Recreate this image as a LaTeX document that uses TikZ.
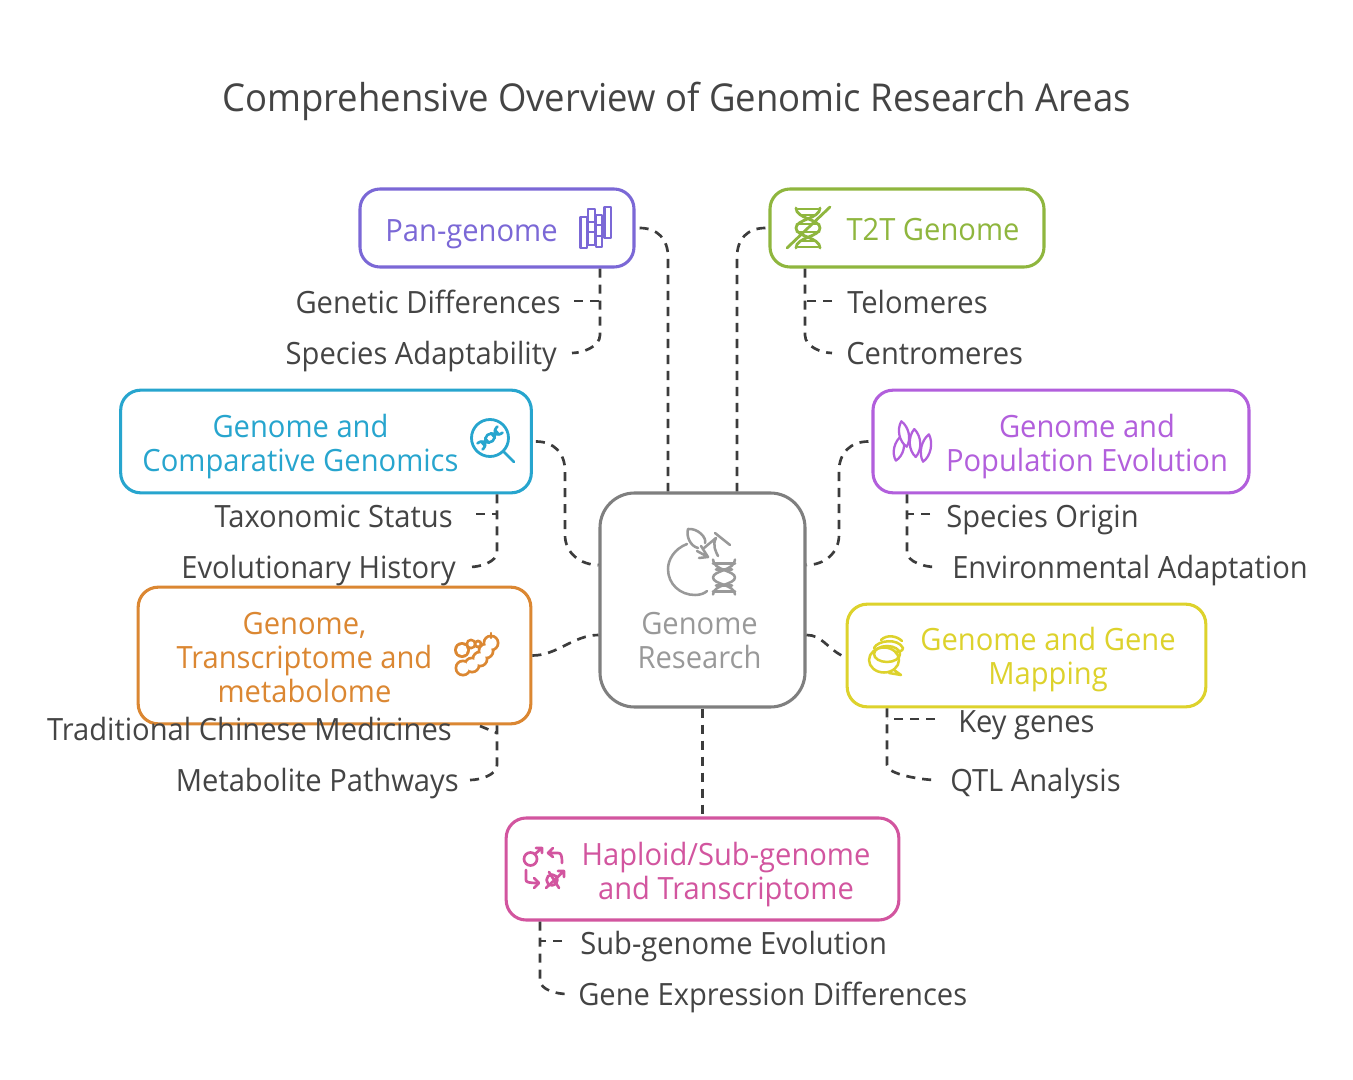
\documentclass[tikz,border=0pt]{standalone}
\usepackage{fontspec}
\setmainfont[FakeStretch=0.95]{Open Sans}
\usetikzlibrary{calc}
\definecolor{ink}{HTML}{444444}
\definecolor{dashc}{HTML}{3C3C3C}
\definecolor{cpan}{HTML}{7B68D6}
\definecolor{ct2t}{HTML}{8FB63E}
\definecolor{ccomp}{HTML}{27A5CE}
\definecolor{cpop}{HTML}{B25FDC}
\definecolor{ctrans}{HTML}{DB8732}
\definecolor{cmap}{HTML}{DDD22C}
\definecolor{chap}{HTML}{D2559F}
\definecolor{ccen}{HTML}{7F7F7F}
\definecolor{ccent}{HTML}{999999}
\newcommand{\myleaf}[5]{\draw[fill=white,shift={(#1,#2)},rotate=#3] (0,-#5) .. controls (1.4*#4,-0.45*#5) and (1.4*#4,0.5*#5) .. (0,#5) .. controls (-1.4*#4,0.5*#5) and (-1.4*#4,-0.45*#5) .. cycle;}
\tikzset{
 box/.style={draw=#1,text=#1,line width=2.3pt,rounded corners=15pt,fill=white,align=center,inner sep=0pt},
 lab/.style={text=ink,inner sep=0pt,text height=21pt,text depth=4pt,font=\fontsize{23}{25}\selectfont},
 boxtext/.style={text=#1,inner sep=0pt,align=center,font=\fontsize{23}{25.5}\selectfont},
 conn/.style={draw=dashc,line width=2pt,dash pattern=on 6.8pt off 5.2pt},
 icon/.style={draw=#1,line width=1.6pt,line cap=round,line join=round},
}
\begin{document}
\begin{tikzpicture}[x=0.75pt,y=-0.75pt]
\useasboundingbox[fill=white] (0,0) rectangle (1353,1080);
\node[text=ink,inner sep=0pt,font=\fontsize{28.8}{32}\selectfont] (title) at (676.5,101) {Comprehensive Overview of Genomic Research Areas};
% boxes
\node[box=ccen,rounded corners=26pt,minimum width=153.75pt,minimum height=160.5pt] (center) at (702.5,600) {};
\node[box=cpan,minimum width=205.5pt,minimum height=58.5pt] (pan) at (497,228) {};
\node[box=ct2t,minimum width=205.5pt,minimum height=58.5pt] (t2t) at (907,228) {};
\node[box=ccomp,minimum width=308pt,minimum height=77pt] (comp) at (326,441.5) {};
\node[box=cpop,minimum width=282pt,minimum height=77pt] (pop) at (1061,441.5) {};
\node[box=ctrans,minimum width=294.5pt,minimum height=102.5pt] (trans) at (334.5,655.5) {};
\node[box=cmap,minimum width=269pt,minimum height=77pt] (map) at (1026.5,655.5) {};
\node[box=chap,minimum width=294.5pt,minimum height=76.5pt] (hap) at (702.5,869) {};
% box texts
\node[boxtext=cpan] (tpan) at (471.5,234) {Pan-genome};
\node[boxtext=ct2t] (tt2t) at (933,230) {T2T Genome};
\node[boxtext=ccomp] (tcomp) at (300.5,446.5) {Genome and\\Comparative Genomics};
\node[boxtext=cpop] (tpop) at (1087,446.5) {Genome and\\Population Evolution};
\node[boxtext=ctrans] (ttrans) at (304.5,657.5) {Genome,\\Transcriptome and\\metabolome};
\node[boxtext=cmap] (tmap) at (1048,659.5) {Genome and Gene\\Mapping};
\node[boxtext=chap] (thap) at (726,874.5) {Haploid/Sub-genome\\and Transcriptome};
\node[boxtext=ccent] (tcen) at (699.5,640.5) {Genome\\Research};
% labels
\node[lab,anchor=east] (gd) at (561,302) {Genetic Differences};
\node[lab,anchor=east] (sa) at (557,353) {Species Adaptability};
\node[lab,anchor=west] (tel) at (847,302) {Telomeres};
\node[lab,anchor=west] (cen) at (846,353) {Centromeres};
\node[lab,anchor=east] (ts) at (453,516) {Taxonomic Status};
\node[lab,anchor=east] (eh) at (456,567) {Evolutionary History};
\node[lab,anchor=west] (so) at (946,516) {Species Origin};
\node[lab,anchor=west] (ea) at (952,567) {Environmental Adaptation};
\node[lab,anchor=east] (tcm) at (452,729) {Traditional Chinese Medicines};
\node[lab,anchor=east] (mp) at (459,780) {Metabolite Pathways};
\node[lab,anchor=west] (kg) at (958,721) {Key genes};
\node[lab,anchor=west] (qtl) at (950,780) {QTL Analysis};
\node[lab,anchor=west] (sge) at (580,943) {Sub-genome Evolution};
\node[lab,anchor=west] (ged) at (578,994) {Gene Expression Differences};
% connectors to the centre
\coordinate (c1) at ($(center.north)+(-34.5,0)$);
\coordinate (c2) at ($(center.north)+(34.5,0)$);
\coordinate (c3) at ($(center.west)+(0,-35)$);
\coordinate (c4) at ($(center.west)+(0,35)$);
\coordinate (c5) at ($(center.east)+(0,-35)$);
\coordinate (c6) at ($(center.east)+(0,35)$);
\draw[conn] ($(pan.east)+(4,0)$) .. controls +(18,0) and +(0,-18) .. (668,257) -- (c1);
\draw[conn] ($(t2t.west)+(-3,0)$) .. controls +(-18,0) and +(0,-18) .. (737,257) -- (c2);
\draw[conn] ($(comp.east)+(3,0)$) .. controls +(18,0) and +(0,-18) .. (565,471) -- (565,535) .. controls +(0,18) and +(-18,0) .. (c3);
\draw[conn] ($(pop.west)+(-3,0)$) .. controls +(-18,0) and +(0,-18) .. (839,471) -- (839,535) .. controls +(0,18) and +(18,0) .. (c5);
\draw[conn] (trans.east) .. controls +(25,0) and +(-25,0) .. (c4);
\draw[conn] (c6) .. controls +(15,0) and +(-15,-8) .. ($(map.west)+(-4,0)$);
\draw[conn] (center.south) -- (hap.north);
% branches
\coordinate (ptr) at ($(pan.south)+(103,0)$);
\coordinate (ttr) at ($(t2t.south)+(-102,0)$);
\coordinate (ctr) at ($(comp.south)+(171,0)$);
\coordinate (pptr) at ($(pop.south)+(-154,0)$);
\coordinate (mtr) at ($(map.south)+(-139.5,0)$);
\coordinate (trtr) at ($(trans.south)+(162.5,0)$);
\coordinate (htr) at ($(hap.south)+(-162.5,0)$);
\draw[conn] (ptr) -- (600,335) .. controls +(0,12) and +(10,0) .. ($(sa.east)+(15,0)$);
\draw[conn] ($(gd.east)+(13,-1)$) -- (600,301);
\draw[conn] (ttr) -- (805,335) .. controls +(0,12) and +(-10,0) .. ($(cen.west)+(-14,0)$);
\draw[conn] ($(tel.west)+(-15,-1)$) -- (805,301);
\draw[conn] (ctr) -- (497,552) .. controls +(0,10) and +(10,0) .. ($(eh.east)+(14,0)$);
\draw[conn] ($(ts.east)+(23,-2)$) -- (497,514);
\draw[conn] (pptr) -- (907,552) .. controls +(0,10) and +(-10,0) .. ($(ea.west)+(-17,0)$);
\draw[conn] ($(so.west)+(-16,-2)$) -- (907,514);
\draw[conn] (trtr) -- (497,765) .. controls +(0,10) and +(10,0) .. ($(mp.east)+(11,0)$);
\draw[conn] ($(tcm.east)+(28,-3)$) -- (497,733);
\draw[conn] (mtr) -- (887,765) .. controls +(0,10) and +(-10,0) .. ($(qtl.west)+(-15,0)$);
\draw[conn] ($(kg.west)+(-23,-2)$) -- (887,719);
\draw[conn] (htr) -- (540,980) .. controls +(0,10) and +(-10,0) .. ($(ged.west)+(-11,0)$);
\draw[conn] ($(sge.west)+(-18,-2)$) -- (540,941);
% --- icons
% pan
\begin{scope}[icon=cpan,line width=1.6pt]
\draw (580.5,217) rectangle (587,248);
\draw (588,209) rectangle (595,245);
\draw (596,215) rectangle (602,247);
\draw (604.5,207) rectangle (611,238);
\draw (588,222) -- (595,222) (588,232) -- (595,232) (596,225) -- (602,225) (596,236) -- (602,236) (602,219) -- (604.5,219) (602,229) -- (604.5,229) (587,238) -- (588,238);
\end{scope}
% t2t dna
\begin{scope}[shift={(808,228)},icon=ct2t,line width=2.1pt]
\draw (-12,-20) .. controls (-12,-9) and (12,-9) .. (12,0) .. controls (12,9) and (-12,9) .. (-12,20);
\draw (12,-20) .. controls (12,-9) and (-12,-9) .. (-12,0) .. controls (-12,9) and (12,9) .. (12,20);
\draw (-10,-19) -- (10,-19) (-7,-13) -- (7,-13) (-11,-4) -- (11,-4) (-11,4) -- (11,4) (-7,13) -- (7,13) (-10,19) -- (10,19);
\draw (-21,20) -- (22,-21);
\end{scope}
% magnifier
\begin{scope}[icon=ccomp,line width=2.1pt]
\draw (490,438) circle (18.5);
\draw (503,451) -- (514,462);
\begin{scope}[shift={(490,438)},rotate=-50,line width=2pt]
\draw (-4,-13) .. controls (-4,-6) and (4,-6) .. (4,0) .. controls (4,6) and (-4,6) .. (-4,13);
\draw (4,-13) .. controls (4,-6) and (-4,-6) .. (-4,0) .. controls (-4,6) and (4,6) .. (4,13);
\draw (-3,-9) -- (3,-9) (-3,-4) -- (3,-4) (-3,4) -- (3,4) (-3,9) -- (3,9);
\end{scope}
\end{scope}
% population leaves
\begin{scope}[icon=cpop,line width=1.7pt]
\myleaf{899}{448}{-14}{4.5}{13}
\myleaf{904}{434}{12}{4.5}{13}
\myleaf{915}{443}{3}{5}{14}
\myleaf{926}{448}{-12}{4.5}{14}
\end{scope}
% transcript lobes
\foreach \cx/\cy/\r in {463/668/7,472/665/7,480/659/7,486/651/7,491/643/7,462/650/6.5,471/644/4,478/644/3}
  \fill[ctrans] (\cx,\cy) circle (\r+1.5);
\foreach \cx/\cy/\r in {463/668/7,472/665/7,480/659/7,486/651/7,491/643/7,462/650/6.5,471/644/4,478/644/3}
  \fill[white] (\cx,\cy) circle (\r-1.3);
\draw[icon=ctrans,line width=1.7pt] (491,633) -- (491,638);
% map coil
\begin{scope}[icon=cmap,line width=1.9pt]
\draw (884,660) ellipse (15 and 12.5);
\draw (887,654) ellipse (13 and 8);
\draw (874,648) .. controls (878,640) and (898,638) .. (903,648) .. controls (903,651) and (899,652) .. (896,652);
\draw (881,640) .. controls (887,634) and (897,636) .. (902,641);
\draw (894,670) -- (901,675) -- (889,673);
\end{scope}
% haploid icon
\begin{scope}[icon=chap,line width=2pt]
\draw (530.5,859) circle (6.5);
\draw (535,854) -- (542,848) (536,848) -- (542,848) -- (542,853);
\draw (548,853) -- (553,848) (548,853) -- (553,857) (548,853) -- (558,853) .. controls (561,853) and (562,855) .. (562,863);
\draw (526,870) -- (526,880) .. controls (526,882) and (528,883) .. (538,883);
\draw (534,878) -- (539,883) -- (534,888);
\draw (552,880) circle (5.5);
\draw (546,888) -- (564,871) (558,871) -- (564,871) -- (564,877) (549,872) -- (559,888);
\end{scope}
% centre icon
\begin{scope}[icon=ccent,line width=1.9pt]
\draw (687,544) .. controls (674,549) and (668,560) .. (668,569) .. controls (668,584) and (680,595) .. (695,595) .. controls (701,595) and (705,593) .. (707,591);
\draw (698,548) .. controls (690,546) and (686,536) .. (688,529) .. controls (698,528) and (707,538) .. (705,543);
\draw (701,546) -- (708,557) -- (699,558) (708,557) -- (697,551);
\draw (704,548) -- (716,538) (715,533) -- (730,545);
\draw (716,538) .. controls (712,545) and (716,552) .. (718,556);
\begin{scope}[shift={(724,577.5)}]
\draw (-11,-18) .. controls (-11,-7) and (11,-7) .. (11,0) .. controls (11,7) and (-11,7) .. (-11,17);
\draw (11,-18) .. controls (11,-7) and (-11,-7) .. (-11,0) .. controls (-11,7) and (11,7) .. (11,17);
\draw (-11,-14) -- (11,-14) (-8,-8) -- (8,-8) (-8,8) -- (8,8) (-11,14) -- (11,14);
\end{scope}
\end{scope}
\end{tikzpicture}
\end{document}
